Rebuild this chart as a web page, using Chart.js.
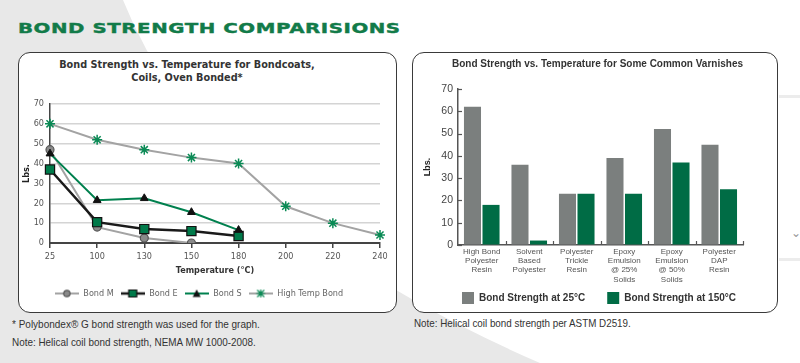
<!DOCTYPE html>
<html><head><meta charset="utf-8">
<script src="https://cdn.jsdelivr.net/npm/chart.js@4.4.1/dist/chart.umd.min.js"></script>
<style>
html,body{margin:0;padding:0;background:#fff;}
body{width:800px;height:363px;position:relative;overflow:hidden;font-family:"Liberation Sans",Arial,sans-serif;}
#bg{position:absolute;left:0;top:0;}
.box{position:absolute;background:#fff;border:1.5px solid #3a3a3a;border-radius:12px;box-sizing:border-box;}
#main{position:absolute;left:18px;top:20px;font:bold 14.5px "DejaVu Sans";color:#127b49;letter-spacing:0.4px;white-space:nowrap;transform-origin:0 0;-webkit-text-stroke:0.4px #127b49;}
#ltitle{position:absolute;left:37px;width:300px;top:58px;text-align:center;font:bold 10.8px "DejaVu Sans Condensed","DejaVu Sans";color:#333;line-height:13px;}
.note{position:absolute;font:11px "Liberation Sans Narrow","Liberation Sans";color:#333;white-space:nowrap;transform-origin:0 0;}
canvas{position:absolute;}
#side{position:absolute;left:779px;top:95px;width:21px;height:160px;border-top:3px solid #ececec;border-bottom:3px solid #ececec;}
#chev{position:absolute;left:791px;top:226px;font:12px "DejaVu Sans";color:#999;}
</style></head>
<body>
<svg id="bg" width="800" height="363"><path d="M0,0 L123,0 Q211,220 540,363 L0,363 Z" fill="#e8e8e8"/></svg>
<div id="side"></div><div id="chev">⌄</div>
<div id="main">BOND STRENGTH COMPARISIONS</div>
<div class="box" style="left:18px;top:52px;width:379px;height:261px;"></div>
<div class="box" style="left:412px;top:52px;width:366px;height:261px;"></div>
<div id="ltitle">Bond Strength vs. Temperature for Bondcoats,<br>Coils, Oven Bonded*</div>
<canvas id="c1" width="378" height="260" style="left:18px;top:52px;"></canvas>
<canvas id="c2" width="365" height="262" style="left:413px;top:52px;"></canvas>
<div class="note" data-w="248" style="left:12px;top:318px;">* Polybondex® G bond strength was used for the graph.</div>
<div class="note" data-w="244" style="left:12px;top:336px;">Note: Helical coil bond strength, NEMA MW 1000-2008.</div>
<div class="note" data-w="217" style="left:414px;top:317px;">Note: Helical coil bond strength per ASTM D2519.</div>
<script>
// ---- data: left chart ----
const tempLabels = ['25','100','130','150','180','200','220','240'];
const bondM    = [47, 8, 2.5, 0, null, null, null, null];
const bondE    = [37, 10.5, 7, 6, 3.5, null, null, null];
const bondS    = [45, 21.5, 22.5, 15.5, 6.5, null, null, null];
const highTemp = [60, 52, 47, 43, 40, 18.5, 10, 4];
const seriesNames = ['Bond M', 'Bond E', 'Bond S', 'High Temp Bond'];
// ---- data: right chart ----
const varnishLabels = [
  ['High Bond','Polyester','Resin'],
  ['Solvent','Based','Polyester'],
  ['Polyester','Trickle','Resin'],
  ['Epoxy','Emulsion','@ 25%','Solids'],
  ['Epoxy','Emulsion','@ 50%','Solids'],
  ['Polyester','DAP','Resin']
];
const at25  = [62, 36, 23, 39, 52, 45];
const at150 = [18, 2, 23, 23, 37, 25];
const barNames = ['Bond Strength at 25°C', 'Bond Strength at 150°C'];

// scale heading and notes to reference widths
const mt = document.getElementById('main');
mt.style.transform = 'scaleX(' + (382 / mt.offsetWidth) + ')';
document.querySelectorAll('.note').forEach(n => {
  n.style.transform = 'scaleX(' + (parseFloat(n.dataset.w) / n.offsetWidth) + ')';
});

const GREEN = '#00804e', GRAY_LINE = '#a3a3a3';
const CF = '"DejaVu Sans Condensed","DejaVu Sans"';

function icon(lineColor, lw, style, fill, stroke) {
  const c = document.createElement('canvas');
  c.width = 24; c.height = 10;
  const x = c.getContext('2d');
  x.strokeStyle = lineColor; x.lineWidth = lw;
  x.beginPath(); x.moveTo(0, 5); x.lineTo(24, 5); x.stroke();
  x.fillStyle = fill; x.strokeStyle = stroke; x.lineWidth = 1.2;
  x.beginPath();
  if (style === 'circle') { x.arc(12, 5, 3.2, 0, Math.PI * 2); x.fill(); x.stroke(); }
  else if (style === 'rect') { x.rect(8, 1.5, 8, 7); x.fill(); x.stroke(); }
  else if (style === 'tri') { x.moveTo(12, 1); x.lineTo(16, 8.5); x.lineTo(8, 8.5); x.closePath(); x.fill(); }
  else { x.moveTo(8.5,1.5); x.lineTo(15.5,8.5); x.moveTo(15.5,1.5); x.lineTo(8.5,8.5); x.moveTo(12,1); x.lineTo(12,9); x.moveTo(7.5,5); x.lineTo(16.5,5); x.stroke(); }
  return c;
}
const icons = [
  icon(GRAY_LINE, 2, 'circle', '#8a8a8a', '#555'),
  icon('#1a1a1a', 2.5, 'rect', '#007a4a', '#111'),
  icon(GREEN, 2, 'tri', '#111', '#111'),
  icon(GRAY_LINE, 2, 'star', '#fff', '#0a8a55')
];

new Chart(document.getElementById('c1'), {
  type: 'line',
  data: {
    labels: tempLabels,
    datasets: [
      {label: seriesNames[0], data: bondM, borderColor: GRAY_LINE, borderWidth: 2, pointStyle: 'circle', pointRadius: 4, pointBackgroundColor: '#8a8a8a', pointBorderColor: '#555', pointBorderWidth: 1.2, order: 2},
      {label: seriesNames[1], data: bondE, borderColor: '#1a1a1a', borderWidth: 2.5, pointStyle: 'rect', pointRadius: 6.5, pointBackgroundColor: '#007a4a', pointBorderColor: '#111', pointBorderWidth: 1.2, order: 1},
      {label: seriesNames[2], data: bondS, borderColor: GREEN, borderWidth: 2, pointStyle: 'triangle', pointRadius: 4.5, pointBackgroundColor: '#111', pointBorderColor: '#111', pointBorderWidth: 1, order: 0},
      {label: seriesNames[3], data: highTemp, borderColor: GRAY_LINE, borderWidth: 2, pointStyle: 'star', pointRadius: 5, pointBackgroundColor: '#fff', pointBorderColor: '#0a8a55', pointBorderWidth: 1.5, order: 3}
    ]
  },
  options: {
    responsive: false, animation: false,
    layout: {padding: {top: 52, right: 16, left: 0, bottom: 4}},
    plugins: {
      tooltip: {enabled: false},
      title: {display: false},
      legend: {
        position: 'bottom',
        labels: {
          usePointStyle: true, pointStyleWidth: 24, padding: 7,
          color: '#666', font: {family: CF, size: 9},
          generateLabels: (chart) => chart.data.datasets.map((d, i) => ({
            text: d.label, pointStyle: icons[i], datasetIndex: i, fontColor: '#666',
            lineWidth: 0, strokeStyle: 'transparent', fillStyle: 'transparent', hidden: false
          }))
        }
      }
    },
    scales: {
      x: {
        offset: false,
        afterFit: (s) => { s.height = 39; },
        grid: {display: true, drawOnChartArea: false, drawTicks: true, tickLength: 5, color: '#444', lineWidth: 1.5},
        border: {color: '#444', width: 2},
        ticks: {color: '#555', font: {family: CF, size: 9}, padding: 3, maxRotation: 0, autoSkip: false},
        title: {display: true, text: 'Temperature (°C)', color: '#333', font: {family: CF, size: 9, weight: 'bold'}, padding: {top: 0, bottom: 5.6}}
      },
      y: {
        min: 0, max: 70,
        afterFit: (s) => { s.width = 32; },
        grid: {color: '#d4d4d4', lineWidth: 1.5, drawTicks: false},
        border: {color: '#444', width: 1.5},
        ticks: {stepSize: 10, color: '#555', font: {family: CF, size: 9}, padding: 6},
        title: {display: true, text: 'Lbs.', color: '#222', font: {family: CF, size: 9, weight: 'bold'}, padding: {top: 3.6, bottom: 0}}
      }
    }
  }
});

const innerTicks = {
  id: 'innerTicks',
  afterDatasetsDraw(chart) {
    const {ctx, scales: {x, y}} = chart;
    ctx.save(); ctx.strokeStyle = '#555'; ctx.lineWidth = 1.2;
    const n = chart.data.labels.length;
    for (let i = 1; i <= n; i++) {
      const px = Math.round(x.left + i * x.width / n) + 0.5;
      ctx.beginPath(); ctx.moveTo(px, y.bottom); ctx.lineTo(px, y.bottom - 4); ctx.stroke();
    }
    y.ticks.forEach(t => {
      const py = Math.round(y.getPixelForValue(t.value)) + 0.5;
      ctx.beginPath(); ctx.moveTo(x.left, py); ctx.lineTo(x.left + 4, py); ctx.stroke();
    });
    ctx.restore();
  }
};

const GAP = '\u2003\u2002';
new Chart(document.getElementById('c2'), {
  type: 'bar',
  data: {
    labels: varnishLabels,
    datasets: [
      {label: barNames[0], data: at25, backgroundColor: '#7b7f7e', barPercentage: 0.92, categoryPercentage: 0.78},
      {label: barNames[1], data: at150, backgroundColor: '#006c45', barPercentage: 0.92, categoryPercentage: 0.78}
    ]
  },
  plugins: [innerTicks],
  options: {
    responsive: false, animation: false,
    layout: {padding: {top: 0, right: 35, left: 0, bottom: 0}},
    plugins: {
      tooltip: {enabled: false},
      title: {display: true, align: 'end', text: 'Bond Strength vs. Temperature for Some Common Varnishes', color: '#333',
        font: {family: '"Liberation Sans", Arial', size: 10, weight: 'bold'}, padding: {top: 6, bottom: 19}},
      legend: {
        position: 'bottom', align: 'end',
        labels: {boxWidth: 12, boxHeight: 12, padding: 7, color: '#333',
          font: {family: '"Liberation Sans", Arial', size: 10, weight: 'bold'},
          generateLabels: (chart) => chart.data.datasets.map((d, i) => ({
            text: i === 0 ? d.label + GAP : d.label, fillStyle: d.backgroundColor, strokeStyle: d.backgroundColor,
            lineWidth: 0, datasetIndex: i, fontColor: '#333', hidden: false
          }))
        }
      }
    },
    scales: {
      x: {
        afterFit: (s) => { s.height = 40; },
        grid: {display: true, drawOnChartArea: false, drawTicks: false, color: '#555'},
        border: {color: '#555', width: 1.5},
        ticks: {color: '#555', font: {family: '"Liberation Sans", Arial', size: 8, lineHeight: 1.16}, padding: 2, maxRotation: 0, autoSkip: false}
      },
      y: {
        min: 0, max: 70,
        afterFit: (s) => { s.width = 45; },
        grid: {display: true, drawOnChartArea: false, drawTicks: false, color: '#555'},
        border: {color: '#555', width: 1.5},
        ticks: {stepSize: 10, color: '#444', font: {family: '"Liberation Sans", Arial', size: 10.5}, padding: 5},
        title: {display: true, text: 'Lbs.', color: '#222', font: {family: '"Liberation Sans", Arial', size: 9, weight: 'bold'}, padding: {top: 9.6, bottom: 0}}
      }
    }
  }
});
</script>
</body></html>
